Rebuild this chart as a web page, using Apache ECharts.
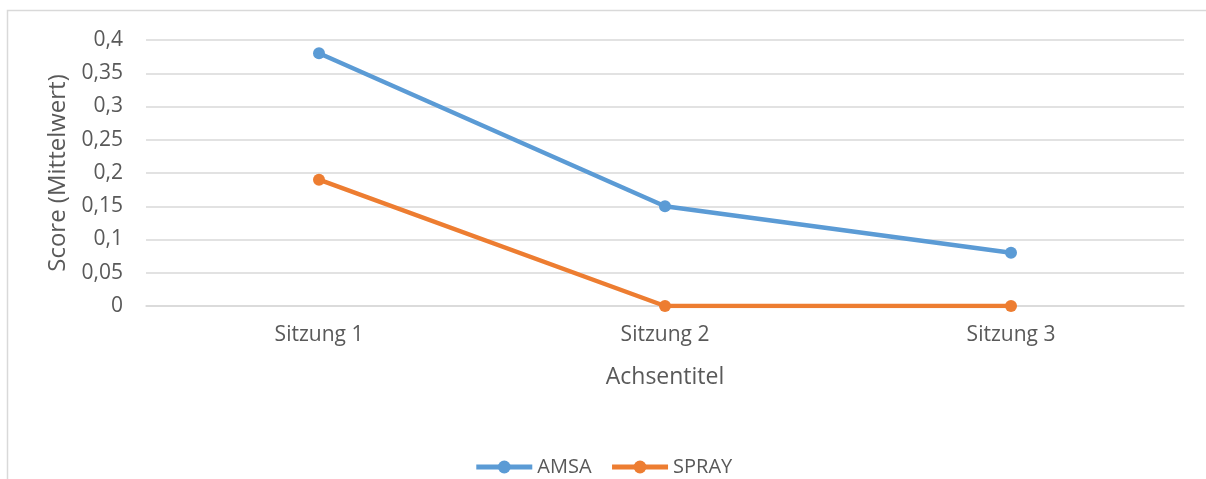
<!DOCTYPE html>
<html>
<head>
<meta charset="utf-8">
<script src="https://cdn.jsdelivr.net/npm/echarts@6/dist/echarts.min.js"></script>
<style>
  html, body { margin: 0; padding: 0; background: #fff; }
  #chart { width: 1206px; height: 479px; }
</style>
</head>
<body>
<div id="chart"></div>
<script>
// Sessions and mean scores per method
const sessions = ['Sitzung 1', 'Sitzung 2', 'Sitzung 3'];
const amsaScores = [0.38, 0.15, 0.08];
const sprayScores = [0.19, 0, 0];
const yTicks = [0, 0.05, 0.1, 0.15, 0.2, 0.25, 0.3, 0.35, 0.4];

const FONT = '"Open Sans", sans-serif';
const TEXT = '#595959';

const chart = echarts.init(document.getElementById('chart'));

function lineSeries(name, data, color) {
  return {
    name: name,
    type: 'line',
    data: data,
    symbol: 'circle',
    symbolSize: 12,
    lineStyle: { width: 4.5, color: color },
    itemStyle: { color: color },
    emphasis: { disabled: true }
  };
}

chart.setOption({
  animation: false,
  textStyle: { fontFamily: FONT },
  graphic: [{
    type: 'rect',
    shape: { x: 7.5, y: 10.5, width: 1220, height: 500 },
    style: { fill: 'none', stroke: '#d9d9d9', lineWidth: 1.5 },
    silent: true
  }],
  grid: { left: 146, right: 22, top: 40, bottom: 173 },
  legend: {
    top: 452,
    left: 'center',
    itemWidth: 56,
    itemHeight: 16,
    itemGap: 18,
    lineStyle: { width: 5 },
    textStyle: { color: TEXT, fontSize: 20, fontFamily: FONT },
    data: ['AMSA', 'SPRAY']
  },
  xAxis: {
    type: 'category',
    data: sessions,
    boundaryGap: true,
    name: 'Achsentitel',
    nameLocation: 'middle',
    nameGap: 60,
    nameTextStyle: { color: TEXT, fontSize: 23, fontFamily: FONT },
    axisLine: { lineStyle: { color: '#d9d9d9', width: 1.5 } },
    axisTick: { show: false },
    axisLabel: { color: TEXT, fontSize: 21, margin: 19, fontFamily: FONT }
  },
  yAxis: {
    type: 'value',
    min: yTicks[0],
    max: yTicks[yTicks.length - 1],
    interval: 0.05,
    name: 'Score (Mittelwert)',
    nameLocation: 'middle',
    nameGap: 74,
    nameTextStyle: { color: TEXT, fontSize: 24, fontFamily: FONT },
    axisLine: { show: false },
    axisTick: { show: false },
    splitLine: { lineStyle: { color: '#d9d9d9', width: 1.5 } },
    axisLabel: {
      color: TEXT,
      fontSize: 21,
      margin: 23,
      fontFamily: FONT,
      formatter: v => String(Math.round(v * 100) / 100).replace('.', ',')
    }
  },
  series: [
    lineSeries('AMSA', amsaScores, '#5b9bd5'),
    lineSeries('SPRAY', sprayScores, '#ed7d31')
  ]
});
</script>
</body>
</html>
